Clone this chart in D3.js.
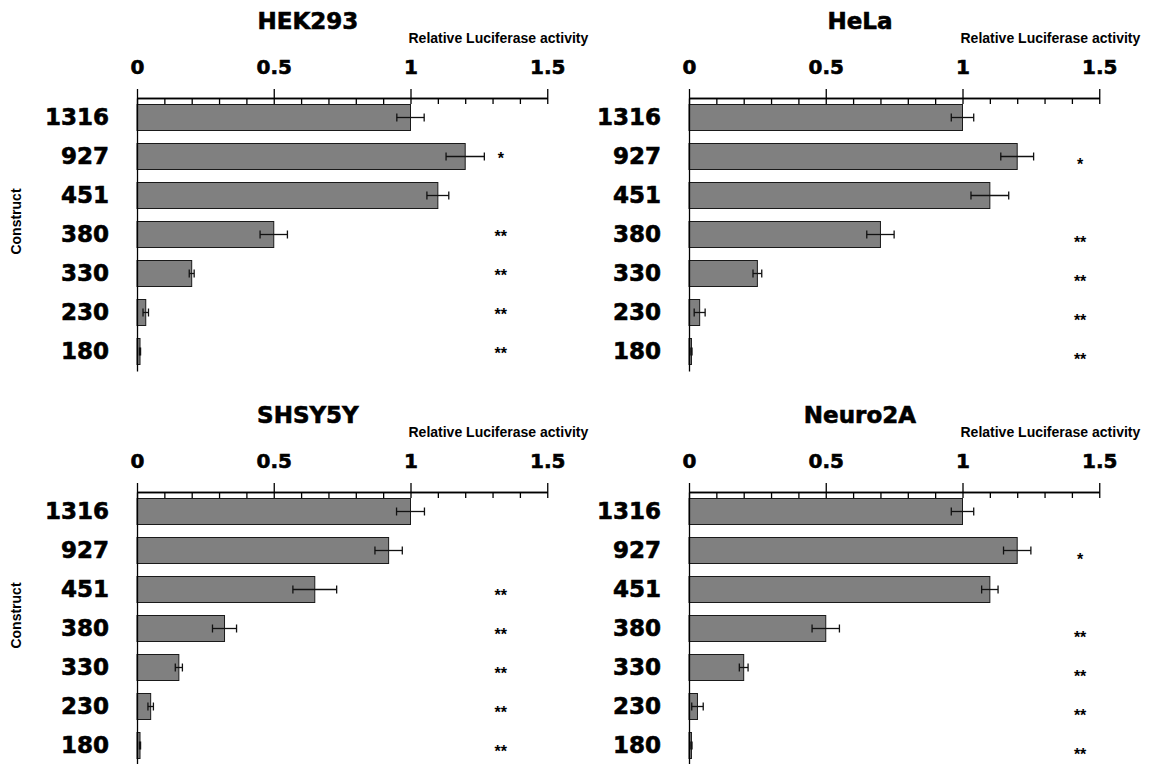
<!DOCTYPE html>
<html>
<head>
<meta charset="utf-8">
<script src="https://cdn.jsdelivr.net/npm/d3@7"></script>
<style>
  body { margin: 0; background: #fff; }
  svg { display: block; }
</style>
</head>
<body>
<div id="chart"></div>
<script>
// Luciferase reporter data, one set of arrays per cell line
const constructs = ['1316', '927', '451', '380', '330', '230', '180'];

const hek293Mean = [1.00, 1.20, 1.10, 0.50, 0.20, 0.032, 0.011];
const hek293Err  = [0.05, 0.07, 0.04, 0.05, 0.009, 0.01, 0.002];
const hek293Sig  = ['', '*', '', '**', '**', '**', '**'];

const helaMean = [1.00, 1.20, 1.10, 0.70, 0.25, 0.039, 0.009];
const helaErr  = [0.041, 0.06, 0.069, 0.05, 0.016, 0.02, 0.002];
const helaSig  = ['', '*', '', '**', '**', '**', '**'];

const shsy5yMean = [1.00, 0.92, 0.65, 0.32, 0.153, 0.05, 0.011];
const shsy5yErr  = [0.051, 0.05, 0.08, 0.044, 0.013, 0.01, 0.002];
const shsy5ySig  = ['', '', '**', '**', '**', '**', '**'];

const neuro2aMean = [1.00, 1.20, 1.10, 0.50, 0.20, 0.031, 0.009];
const neuro2aErr  = [0.041, 0.05, 0.03, 0.05, 0.016, 0.021, 0.002];
const neuro2aSig  = ['', '*', '', '**', '**', '**', '**'];

const majorTicks = [0, 0.5, 1, 1.5];
const majorTickLabels = ['0', '0.5', '1', '1.5'];
const minorTicks = [0, 0.1, 0.2, 0.3, 0.4, 0.5, 0.6, 0.7, 0.8, 0.9, 1.0, 1.1, 1.2, 1.3, 1.4, 1.5];

const xLabel = 'Relative Luciferase activity';
const yLabel = 'Construct';

const panels = [
  { title: 'HEK293',  mean: hek293Mean,  err: hek293Err,  sig: hek293Sig,  col: 0, row: 0, starAt: 1.33, starDy: -2 },
  { title: 'HeLa',    mean: helaMean,    err: helaErr,    sig: helaSig,    col: 1, row: 0, starAt: 1.43, starDy: 4 },
  { title: 'SHSY5Y',  mean: shsy5yMean,  err: shsy5yErr,  sig: shsy5ySig,  col: 0, row: 1, starAt: 1.33, starDy: 2 },
  { title: 'Neuro2A', mean: neuro2aMean, err: neuro2aErr, sig: neuro2aSig, col: 1, row: 1, starAt: 1.43, starDy: 5 }
];

const width = 1159, height = 764;
const heavyFont = '"DejaVu Sans", sans-serif';
const plainFont = '"Liberation Sans", Arial, sans-serif';

const svg = d3.select('#chart').append('svg')
  .attr('width', width)
  .attr('height', height);

const colX = [137, 689];   // x of value 0
const rowY = [98, 492];    // y of the top axis line
const unitPx = 273.5;
const bandH = 273;

// heavy black text (stands in for Arial Black)
function heavy(sel, size) {
  sel.attr('fill', '#000')
    .attr('font-family', heavyFont)
    .attr('font-weight', 'bold')
    .attr('font-size', size)
    .attr('stroke', '#000')
    .attr('stroke-width', 0.6);
}

panels.forEach(p => {
  const x0 = colX[p.col];
  const yTop = rowY[p.row];

  const x = d3.scaleLinear().domain([0, 1.5]).range([x0, x0 + 1.5 * unitPx]);
  const y = d3.scaleBand().domain(constructs)
    .range([yTop, yTop + bandH])
    .paddingInner(1 / 3)
    .paddingOuter(1 / 6);

  const g = svg.append('g');

  // bars
  g.selectAll('.bar')
    .data(constructs)
    .join('rect')
    .attr('class', 'bar')
    .attr('x', x(0))
    .attr('y', d => y(d))
    .attr('width', (d, i) => x(p.mean[i]) - x(0))
    .attr('height', y.bandwidth())
    .attr('fill', '#808080')
    .attr('stroke', '#1a1a1a')
    .attr('stroke-width', 1);

  // error bars
  const eb = g.selectAll('.err')
    .data(constructs)
    .join('g')
    .attr('class', 'err')
    .attr('transform', d => `translate(0,${y(d) + y.bandwidth() / 2})`)
    .attr('stroke', '#111')
    .attr('stroke-width', 1.3);
  eb.append('line')
    .attr('x1', (d, i) => x(p.mean[i] - p.err[i]))
    .attr('x2', (d, i) => x(p.mean[i] + p.err[i]));
  eb.append('line')
    .attr('x1', (d, i) => x(p.mean[i] - p.err[i]))
    .attr('x2', (d, i) => x(p.mean[i] - p.err[i]))
    .attr('y1', -4).attr('y2', 4);
  eb.append('line')
    .attr('x1', (d, i) => x(p.mean[i] + p.err[i]))
    .attr('x2', (d, i) => x(p.mean[i] + p.err[i]))
    .attr('y1', -4).attr('y2', 4);

  // significance marks
  g.selectAll('.sig')
    .data(constructs)
    .join('text')
    .attr('class', 'sig')
    .attr('x', x(p.starAt))
    .attr('y', d => y(d) + y.bandwidth() / 2 + p.starDy + 9)
    .attr('text-anchor', 'middle')
    .attr('font-family', plainFont)
    .attr('font-weight', 'bold')
    .attr('font-size', '16px')
    .text((d, i) => p.sig[i]);

  // minor ticks pointing down
  g.append('g')
    .attr('transform', `translate(0,${yTop})`)
    .call(d3.axisBottom(x).tickValues(minorTicks).tickSize(6).tickSizeOuter(0).tickFormat(''))
    .call(a => a.selectAll('path, line').attr('stroke', '#000').attr('stroke-width', 1.3));

  // major ticks pointing up, with labels
  g.append('g')
    .attr('transform', `translate(0,${yTop})`)
    .call(d3.axisTop(x).tickValues(majorTicks).tickSize(9).tickSizeOuter(0)
      .tickPadding(15).tickFormat((d, i) => majorTickLabels[i]))
    .call(a => a.selectAll('path, line').attr('stroke', '#000').attr('stroke-width', 1.3))
    .call(a => a.selectAll('text').call(heavy, '20px'));

  // category axis
  g.append('g')
    .attr('transform', `translate(${x0},0)`)
    .call(d3.axisLeft(y).tickSize(0).tickPadding(28))
    .call(a => a.select('.domain').attr('stroke', '#000').attr('stroke-width', 1.3))
    .call(a => a.selectAll('text').call(heavy, '23px'));

  // title
  g.append('text')
    .attr('x', x(0.625))
    .attr('y', yTop - 69)
    .attr('text-anchor', 'middle')
    .call(heavy, '23px')
    .text(p.title);

  // x axis label
  g.append('text')
    .attr('x', x(1) - 2)
    .attr('y', yTop - 55)
    .attr('font-family', plainFont)
    .attr('font-weight', 'bold')
    .attr('font-size', '14px')
    .text(xLabel);

  // y axis label (left column only)
  if (p.col === 0) {
    g.append('text')
      .attr('transform', `translate(${x0 - 116},${yTop + bandH / 2 - 13}) rotate(-90)`)
      .attr('text-anchor', 'middle')
      .attr('font-family', plainFont)
      .attr('font-weight', 'bold')
      .attr('font-size', '14px')
      .text(yLabel);
  }
});
</script>
</body>
</html>
